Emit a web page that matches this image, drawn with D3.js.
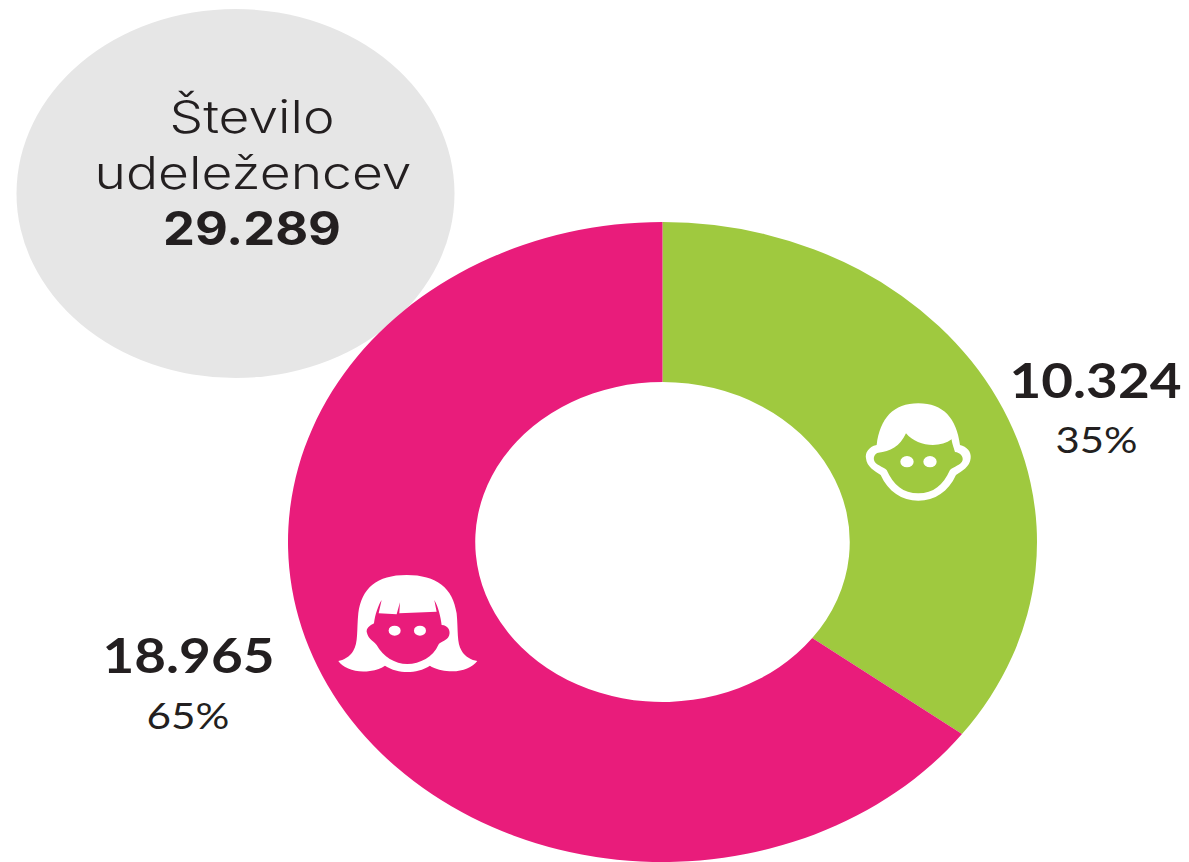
<!DOCTYPE html>
<html><head><meta charset="utf-8">
<script src="https://cdn.jsdelivr.net/npm/d3@7"></script>
<style>html,body{margin:0;padding:0;background:#fff}svg{display:block}</style>
</head><body><div id="c"></div>
<script>
const categories = ["Moški", "Ženske"];
const counts = [10324, 18965];
const countLabels = ["10.324", "18.965"];
const shareLabels = ["35%", "65%"];
const colours = ["#9fc93f", "#e91c7b"];
const titleLines = ["Število", "udeležencev"];
const totalLabel = "29.289";

const svg = d3.select("#c").append("svg").attr("width", 1189).attr("height", 862);
const ink = "#231f20";

svg.append("ellipse").attr("cx", 235.5).attr("cy", 193.5).attr("rx", 219).attr("ry", 184.5).attr("fill", "#e6e6e6");

const R = 374.5, yScale = 320 / 374.5;
const pie = d3.pie().sort(null).value(d => d);
const arc = d3.arc().innerRadius(R * 0.5).outerRadius(R);
const donut = svg.append("g").attr("transform", `translate(662.5,542) scale(1,${yScale})`);
donut.selectAll("path").data(pie(counts)).join("path")
  .attr("d", arc).attr("fill", (d, i) => colours[i])
  .attr("stroke", "none");

function label(x, y, t, size, weight, family, len) {
  svg.append("text").attr("x", x).attr("y", y).attr("text-anchor", "middle")
    .attr("font-family", family).attr("font-size", size).attr("font-weight", weight)
    .attr("fill", ink).attr("textLength", len).attr("lengthAdjust", "spacingAndGlyphs").text(t);
}
const sans = "Inter, 'Open Sans', sans-serif", lato = "Lato, sans-serif";
label(252, 133, titleLines[0], 45, 300, sans, 165);
label(253, 189, titleLines[1], 45, 300, sans, 317);
label(252, 245, totalLabel, 46, 700, sans, 178);
label(1095.5, 398, countLabels[0], 47, 700, lato, 172);
label(1096.5, 453, shareLabels[0], 36, 400, lato, 82);
label(188.5, 673, countLabels[1], 47, 700, lato, 172);
label(188, 729, shareLabels[1], 36, 400, lato, 83);

// Icons
const boy = svg.append("g").attr("transform", "translate(850,350) scale(0.3333)");
boy.append("path").attr("fill", "#fff").attr("d", "M205,160 C130,160 90,205 80,285 C55,290 45,310 48,325 C50,350 75,365 92,375 C115,425 155,452 205,452 C255,452 295,425 318,375 C335,365 360,350 362,325 C365,305 350,290 330,285 C320,205 280,160 205,160 Z");
boy.append("path").attr("fill", colours[0]).attr("d", "M168,250 C150,290 120,305 85,308 C75,310 70,320 72,330 C75,345 100,350 110,360 C130,405 160,430 205,430 C250,430 280,405 300,360 C310,350 335,345 338,330 C340,318 330,308 315,306 C310,290 305,275 305,268 C270,295 200,290 168,250 Z");
boy.selectAll("ellipse").data([171, 240]).join("ellipse").attr("cx", d => d).attr("cy", 335).attr("rx", 20).attr("ry", 17).attr("fill", "#fff");

const girl = svg.append("g").attr("transform", "translate(90,560) scale(0.3333)");
girl.append("path").attr("fill", "#fff").attr("d", "M950,45 C860,45 815,85 805,160 C800,210 805,250 790,272 C780,290 760,300 745,303 C760,325 800,340 840,333 C860,330 875,325 885,317 C905,330 930,336 952,336 C975,336 1000,330 1020,317 C1030,325 1050,330 1070,333 C1110,338 1145,325 1162,303 C1145,300 1125,290 1115,272 C1100,250 1105,210 1100,160 C1090,85 1040,45 950,45 Z");
girl.append("path").attr("fill", colours[1]).attr("d", "M875,120 L866,160 L920,163 L930,127 L928,160 L1040,155 L1033,120 C1045,140 1052,170 1055,195 C1075,195 1085,215 1075,232 C1065,245 1050,245 1045,255 C1030,290 990,312 952,312 C915,312 880,290 860,255 C855,245 835,240 830,215 C830,200 845,195 852,190 C855,165 865,135 875,120 Z");
girl.selectAll("ellipse").data([914, 990]).join("ellipse").attr("cx", d => d).attr("cy", 212).attr("rx", 18).attr("ry", 15).attr("fill", "#fff");
</script></body></html>
